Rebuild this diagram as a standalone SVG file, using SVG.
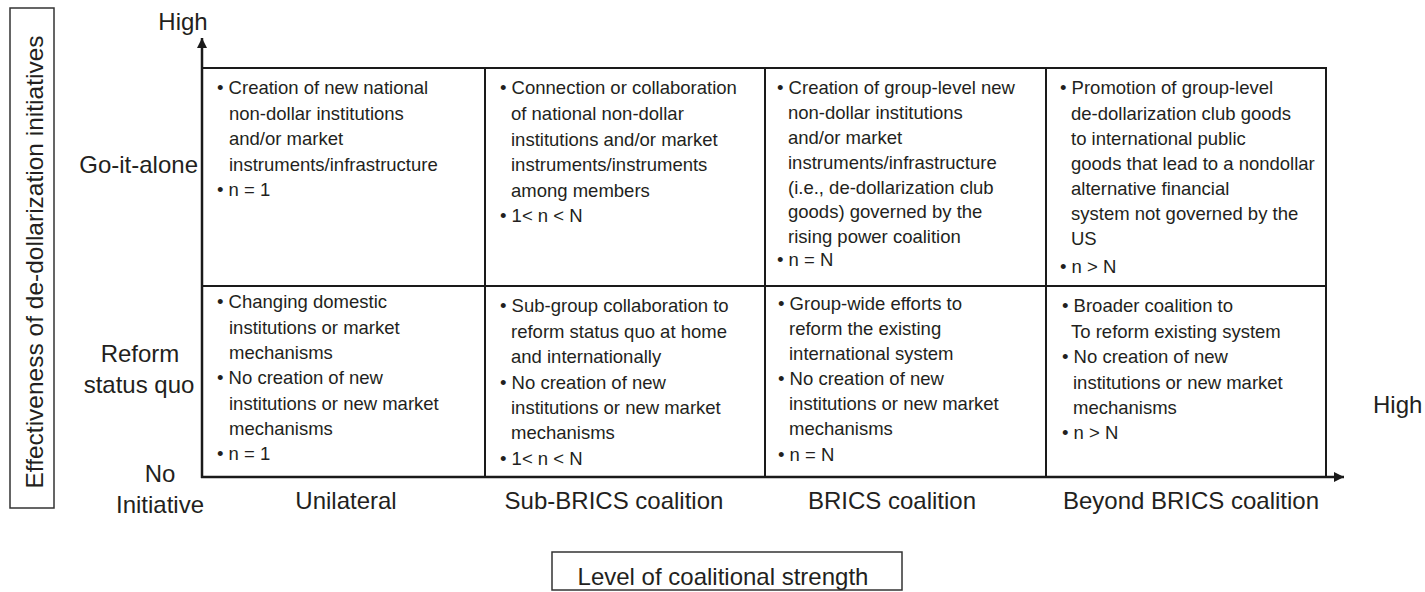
<svg xmlns="http://www.w3.org/2000/svg" width="1425" height="592" viewBox="0 0 1425 592">
<style>
text{font-family:"Liberation Sans",Arial,sans-serif;fill:#231f20}
.ax{font-size:24px}
.c{font-size:18.5px}
.grid{stroke:#1a1a1a;stroke-width:2;fill:none}
.axis{stroke:#1a1a1a;stroke-width:2.5;fill:none}
.box{stroke:#333;stroke-width:1.5;fill:none}
</style>
<defs>
<marker id="ah" viewBox="0 0 10 10" refX="10" refY="5" markerWidth="10" markerHeight="10" markerUnits="userSpaceOnUse" orient="auto">
<path d="M0,0 L10,5 L0,10 Z" fill="#1a1a1a"/>
</marker>
</defs>
<rect width="1425" height="592" fill="#fff"/>

<g id="y-label">
<rect class="box" x="10" y="8" width="44" height="500"/>
<text class="ax" style="font-size:24.5px" text-anchor="middle" transform="translate(43,262) rotate(-90)">Effectiveness of de-dollarization initiatives</text>
</g>

<g id="x-label">
<rect class="box" x="552" y="552" width="350" height="38"/>
<text class="ax" x="723" y="585" text-anchor="middle">Level of coalitional strength</text>
</g>

<g id="connectors">
<line class="axis" x1="202" y1="478" x2="202" y2="38" marker-end="url(#ah)"/>
<line class="axis" x1="201" y1="477" x2="1344" y2="477" marker-end="url(#ah)"/>
<polyline class="grid" points="202,68 1326,68 1326,477"/>
<line class="grid" x1="202" y1="286" x2="1326" y2="286"/>
<line class="grid" x1="485" y1="68" x2="485" y2="477"/>
<line class="grid" x1="765" y1="68" x2="765" y2="477"/>
<line class="grid" x1="1046" y1="68" x2="1046" y2="477"/>
</g>

<g id="axis-labels">
<text class="ax" x="183" y="30" text-anchor="middle">High</text>
<text class="ax" x="198" y="173" text-anchor="end">Go-it-alone</text>
<text class="ax" x="140" y="362" text-anchor="middle">Reform</text>
<text class="ax" x="139" y="393" text-anchor="middle">status quo</text>
<text class="ax" x="160" y="482" text-anchor="middle">No</text>
<text class="ax" x="160" y="513" text-anchor="middle">Initiative</text>
<text class="ax" x="346" y="509" text-anchor="middle">Unilateral</text>
<text class="ax" x="614" y="509" text-anchor="middle">Sub-BRICS coalition</text>
<text class="ax" x="892" y="509" text-anchor="middle">BRICS coalition</text>
<text class="ax" x="1191" y="509" text-anchor="middle">Beyond BRICS coalition</text>
<text class="ax" x="1373" y="413">High</text>
</g>

<g id="cell-go-unilateral">
<text class="c" x="217" y="94">• Creation of new national</text>
<text class="c" x="229" y="119.5">non-dollar institutions</text>
<text class="c" x="229" y="145">and/or market</text>
<text class="c" x="229" y="170.5">instruments/infrastructure</text>
<text class="c" x="217" y="196">• n = 1</text>
</g>

<g id="cell-go-subbrics">
<text class="c" x="500" y="94">• Connection or collaboration</text>
<text class="c" x="511" y="120">of national non-dollar</text>
<text class="c" x="511" y="146">institutions and/or market</text>
<text class="c" x="511" y="171">instruments/instruments</text>
<text class="c" x="511" y="197">among members</text>
<text class="c" x="500" y="222">• 1&lt; n &lt; N</text>
</g>

<g id="cell-go-brics">
<text class="c" x="777" y="94">• Creation of group-level new</text>
<text class="c" x="788" y="119">non-dollar institutions</text>
<text class="c" x="788" y="144">and/or market</text>
<text class="c" x="788" y="169">instruments/infrastructure</text>
<text class="c" x="788" y="193.5">(i.e., de-dollarization club</text>
<text class="c" x="788" y="218">goods) governed by the</text>
<text class="c" x="788" y="242.5">rising power coalition</text>
<text class="c" x="777" y="266">• n = N</text>
</g>

<g id="cell-go-beyond">
<text class="c" x="1060" y="94">• Promotion of group-level</text>
<text class="c" x="1071" y="119.5">de-dollarization club goods</text>
<text class="c" x="1071" y="145">to international public</text>
<text class="c" x="1071" y="170">goods that lead to a nondollar</text>
<text class="c" x="1071" y="195">alternative financial</text>
<text class="c" x="1071" y="220">system not governed by the</text>
<text class="c" x="1071" y="245">US</text>
<text class="c" x="1060" y="273">• n &gt; N</text>
</g>

<g id="cell-reform-unilateral">
<text class="c" x="217" y="308">• Changing domestic</text>
<text class="c" x="229" y="334">institutions or market</text>
<text class="c" x="229" y="359">mechanisms</text>
<text class="c" x="217" y="384">• No creation of new</text>
<text class="c" x="229" y="410">institutions or new market</text>
<text class="c" x="229" y="435">mechanisms</text>
<text class="c" x="217" y="460">• n = 1</text>
</g>

<g id="cell-reform-subbrics">
<text class="c" x="500" y="312">• Sub-group collaboration to</text>
<text class="c" x="511" y="338">reform status quo at home</text>
<text class="c" x="511" y="363">and internationally</text>
<text class="c" x="500" y="389">• No creation of new</text>
<text class="c" x="511" y="414">institutions or new market</text>
<text class="c" x="511" y="439">mechanisms</text>
<text class="c" x="500" y="465">• 1&lt; n &lt; N</text>
</g>

<g id="cell-reform-brics">
<text class="c" x="778" y="310">• Group-wide efforts to</text>
<text class="c" x="789" y="335">reform the existing</text>
<text class="c" x="789" y="360">international system</text>
<text class="c" x="778" y="385">• No creation of new</text>
<text class="c" x="789" y="410">institutions or new market</text>
<text class="c" x="789" y="435">mechanisms</text>
<text class="c" x="778" y="461">• n = N</text>
</g>

<g id="cell-reform-beyond">
<text class="c" x="1062" y="312">• Broader coalition to</text>
<text class="c" x="1071" y="338">To reform existing system</text>
<text class="c" x="1062" y="363">• No creation of new</text>
<text class="c" x="1073" y="389">institutions or new market</text>
<text class="c" x="1073" y="414">mechanisms</text>
<text class="c" x="1062" y="439">• n &gt; N</text>
</g>
</svg>
